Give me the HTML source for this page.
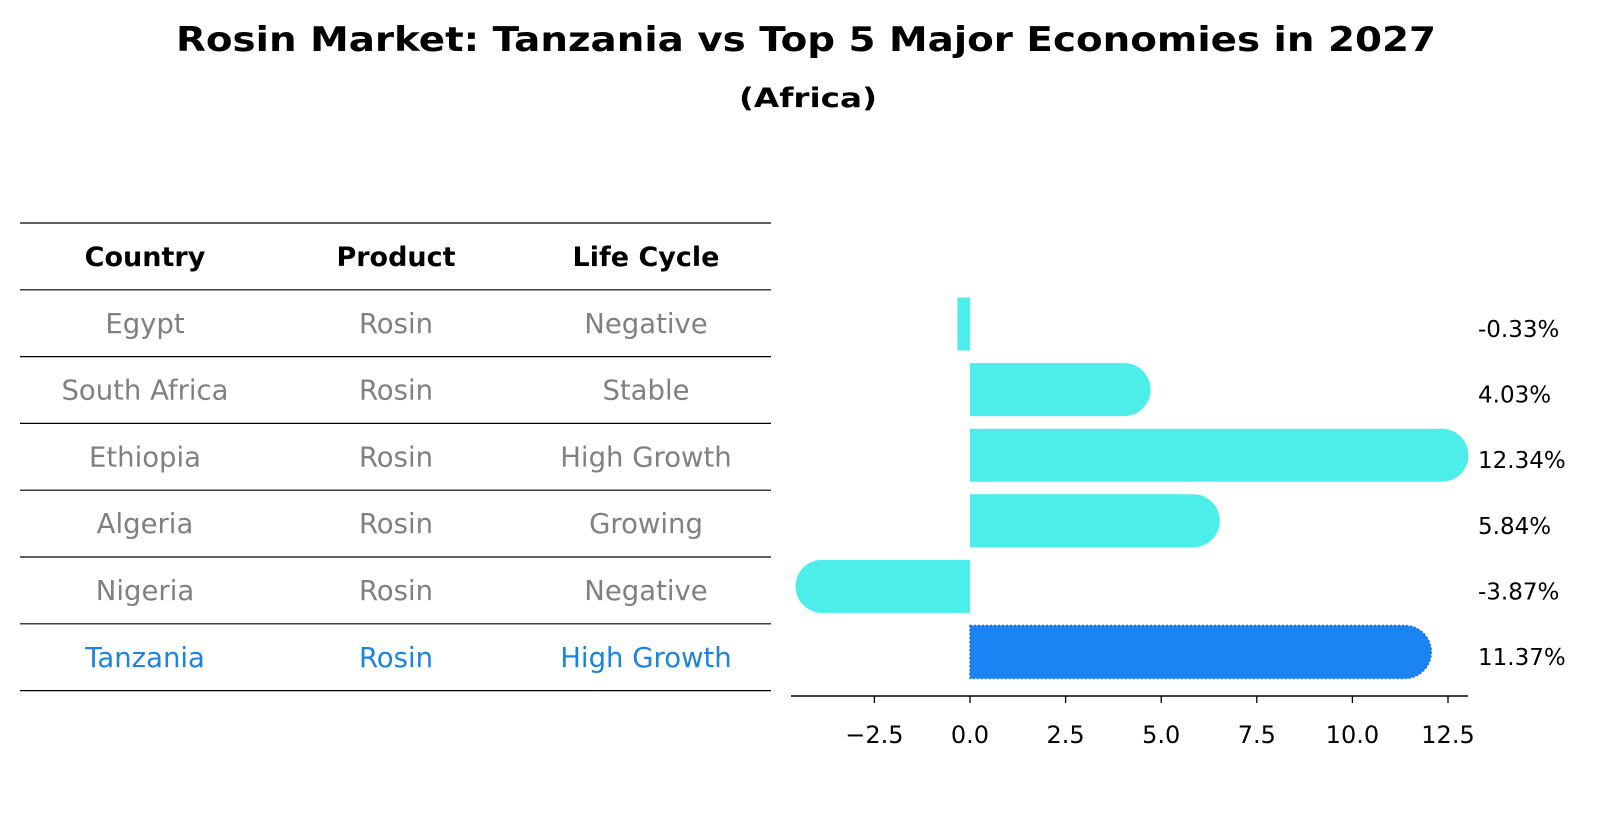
<!DOCTYPE html>
<html><head><meta charset="utf-8"><style>
body{margin:0;background:#fff;}
svg{display:block;font-family:"DejaVu Sans","Liberation Sans",sans-serif;}
</style></head><body>
<svg id="chart" width="1604" height="823" viewBox="0 0 1604 823">
<text x="806" y="51" text-anchor="middle" font-size="34" font-weight="bold" textLength="1260" lengthAdjust="spacingAndGlyphs">Rosin Market: Tanzania vs Top 5 Major Economies in 2027</text>
<text x="808" y="107" text-anchor="middle" font-size="27" font-weight="bold" textLength="138" lengthAdjust="spacingAndGlyphs">(Africa)</text>
<g id="table"></g>
<g id="bars"></g>
</svg>
<script>
const countries=["Egypt","South Africa","Ethiopia","Algeria","Nigeria","Tanzania"];
const products=["Rosin","Rosin","Rosin","Rosin","Rosin","Rosin"];
const lifeCycles=["Negative","Stable","High Growth","Growing","Negative","High Growth"];
const values=[-0.33,4.03,12.34,5.84,-3.87,11.37];
const valueLabels=["-0.33%","4.03%","12.34%","5.84%","-3.87%","11.37%"];
const ticks=[-2.5,0,2.5,5,7.5,10,12.5];
const tickLabels=["\u22122.5","0.0","2.5","5.0","7.5","10.0","12.5"];
const headers=["Country","Product","Life Cycle"];

const NS="http://www.w3.org/2000/svg";
function mk(tag,attrs,parent){const e=document.createElementNS(NS,tag);for(const k in attrs)e.setAttribute(k,attrs[k]);parent.appendChild(e);return e;}
const x=v=>970+v*38.24;
const y=i=>324+i*65.6;
const hl=countries.length-1;

const tg=document.getElementById('table');
const lineY=i=>223+i*66.8;
const colX=[145,396,646];
for(let i=0;i<=countries.length+1;i++){
  const l=mk('line',{x1:20,x2:771,y1:lineY(i),y2:lineY(i),stroke:'#000','stroke-width':1.2},tg);
  
  
}
headers.forEach((h,j)=>{
  const t=mk('text',{x:colX[j],y:lineY(0)+43,'text-anchor':'middle','font-size':27,'font-weight':'bold'},tg);
  t.textContent=h;
  
  
});
countries.forEach((c,i)=>{
  const cells=[c,products[i],lifeCycles[i]];
  const col=i===hl?'#1a84e0':'#808080';
  cells.forEach((s,j)=>{
    const t=mk('text',{x:colX[j],y:lineY(i+1)+43,'text-anchor':'middle','font-size':27.5,fill:col},tg);
    t.textContent=s;
    
    
  });
});

const bg=document.getElementById('bars');
const h=53,r=h/2;
values.forEach((v,i)=>{
  const cy=y(i),x0=x(0),x1=x(v);
  const col=i===hl?'#1a84f2':'#4deeea';
  let d;
  if(Math.abs(v)<1){
    d=`M${x0},${cy-r}L${x1},${cy-r}L${x1},${cy+r}L${x0},${cy+r}Z`;
  }else{
    const s=v>0?1:0;
    d=`M${x0},${cy-r}L${x1},${cy-r}A${r},${r} 0 0 ${s} ${x1},${cy+r}L${x0},${cy+r}Z`;
  }
  const p=mk('path',{d:d,fill:col},bg);
  if(i===hl){p.setAttribute('stroke','#2a6fcf');p.setAttribute('stroke-width',1.5);p.setAttribute('stroke-dasharray','2,2');}
  
  
  const t=mk('text',{x:1478,y:cy+13,'font-size':23},bg);
  t.textContent=valueLabels[i];
  
  
});
const ax=mk('line',{x1:791,x2:1468,y1:696,y2:696,stroke:'#000','stroke-width':1.5},bg);


ticks.forEach((tv,k)=>{
  const tk=mk('line',{x1:x(tv),x2:x(tv),y1:696,y2:703,stroke:'#000','stroke-width':1.3},bg);
  
  
  const t=mk('text',{x:x(tv),y:743,'text-anchor':'middle','font-size':24},bg);
  t.textContent=tickLabels[k];
  
  
});
</script>
</body></html>
